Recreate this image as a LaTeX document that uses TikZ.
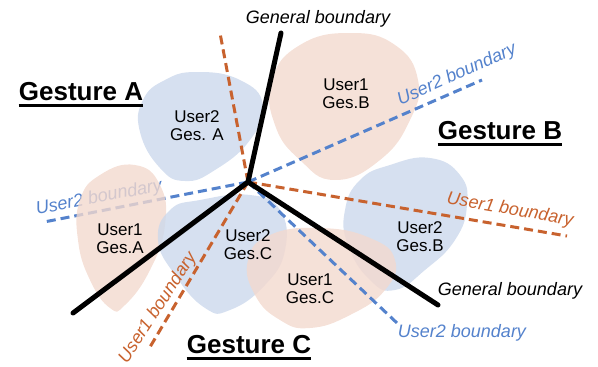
\documentclass[tikz,border=0pt]{standalone}
\usepackage{fontspec}
\setmainfont{Liberation Sans}
\usetikzlibrary{positioning}
\definecolor{uoneline}{RGB}{200,98,46}
\definecolor{utwoline}{RGB}{84,130,204}
\definecolor{uonefill}{RGB}{243,217,206}
\definecolor{utwofill}{RGB}{204,216,236}

\begin{document}
\begin{tikzpicture}[x=1pt,y=-1pt,
  gen/.style={line width=5pt,line cap=round},
  bone/.style={uoneline,line width=3pt,dash pattern=on 9pt off 5pt},
  btwo/.style={utwoline,line width=3pt,dash pattern=on 9pt off 5pt},
  lb/.style={font=\fontsize{18}{20}\selectfont\itshape,inner sep=0pt},
  us/.style={font=\fontsize{17}{18}\selectfont,align=center,inner sep=0pt},
  ges/.style={font=\fontsize{26}{28}\selectfont\bfseries,inner sep=0pt,anchor=base},
  ul/.style={line width=3pt},
  blobone/.style={fill=uonefill,fill opacity=0.8},
  blobtwo/.style={fill=utwofill,fill opacity=0.8}]
\useasboundingbox (0,0) rectangle (598,367);
\coordinate (o) at (248,182);
\coordinate (gtop) at (281,33);  \coordinate (gleft) at (73,313);  \coordinate (gright) at (438,305);
\coordinate (tup) at (482,80);   \coordinate (tleft) at (44,222);  \coordinate (tdown) at (397,323);
\coordinate (oup) at (220,33);   \coordinate (oright) at (567,236); \coordinate (odown) at (150,347);
\draw[btwo] (o) -- (tleft);
\node[lb,utwoline,rotate=11] (ltl) at (99,198) {User2 boundary};
\fill[blobtwo] plot[smooth cycle,tension=0.8] coordinates {(197,72) (240,80) (263,105) (250,140) (215,170) (185,181) (160,168) (140,132) (143,100) (165,80)};
\fill[blobone] plot[smooth cycle,tension=0.8] coordinates {(300,45) (350,33) (395,45) (418,80) (410,120) (380,160) (335,180) (300,160) (275,125) (272,80)};
\fill[blobone] plot[smooth cycle,tension=0.8] coordinates {(100,175) (135,165) (160,185) (165,225) (150,270) (125,305) (110,308) (90,280) (78,240) (80,200)};
\fill[blobtwo] plot[smooth cycle,tension=0.8] coordinates {(200,200) (250,195) (280,210) (285,250) (265,285) (230,310) (205,308) (175,275) (158,240) (170,210)};
\fill[blobtwo] plot[smooth cycle,tension=0.8] coordinates {(390,165) (430,158) (460,175) (467,205) (455,240) (425,270) (395,290) (370,280) (348,245) (345,210) (360,180)};
\fill[blobone] plot[smooth cycle,tension=0.8] coordinates {(270,235) (320,228) (370,238) (395,260) (385,290) (350,315) (310,328) (280,320) (255,295) (248,260)};
\node[us] (ua) at (197,126) {User2\\Ges. A};
\node[us] (ob) at (346,94) {User1\\Ges.B};
\node[us] (oa) at (120,239) {User1\\Ges.A};
\node[us] (uc) at (248,245) {User2\\Ges.C};
\node[us] (oc) at (310,289) {User1\\Ges.C};
\node[us] (ub) at (420,237) {User2\\Ges.B};
\draw[bone] (o) -- (oup); \draw[bone] (o) -- (oright); \draw[bone] (o) -- (odown);
\draw[btwo] (o) -- (tup); \draw[btwo] (o) -- (tdown);
\draw[gen] (o) -- (gtop); \draw[gen] (o) -- (gleft); \draw[gen] (o) -- (gright);
\node[lb] (lgt) at (318,19) {General boundary};
\node[lb] (lgr) at (510,291) {General boundary};
\node[lb,utwoline,rotate=24] (ltu) at (457,75) {User2 boundary};
\node[lb,utwoline] (ltd) at (462,333) {User2 boundary};
\node[lb,uoneline,rotate=-10] (lor) at (510,210) {User1 boundary};
\node[lb,uoneline,rotate=57] (lod) at (158,308) {User1 boundary};
\node[ges] (ga) at (81,100) {Gesture A};
\node[ges] (gb) at (500,139) {Gesture B};
\node[ges] (gc) at (249,353) {Gesture C};
\draw[ul] ([yshift=-5pt]ga.base west) -- ([yshift=-5pt]ga.base east);
\draw[ul] ([yshift=-5pt]gb.base west) -- ([yshift=-5pt]gb.base east);
\draw[ul] ([yshift=-5pt]gc.base west) -- ([yshift=-5pt]gc.base east);
\end{tikzpicture}
\end{document}
